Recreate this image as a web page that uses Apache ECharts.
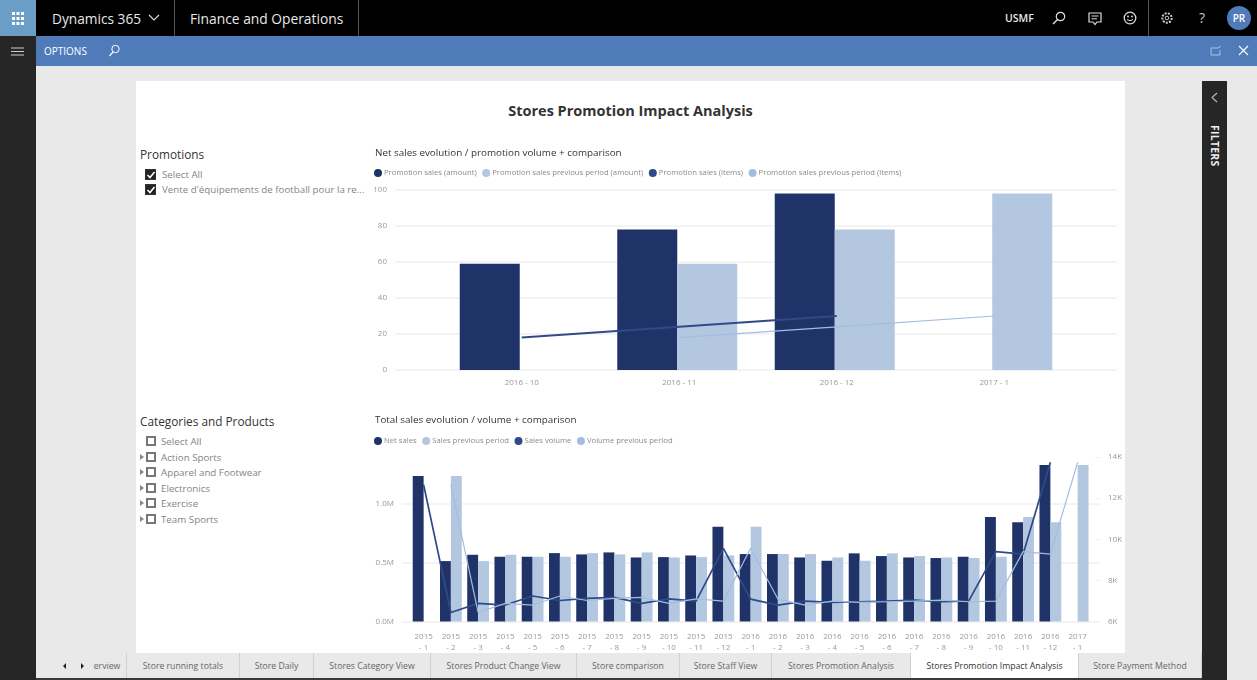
<!DOCTYPE html>
<html>
<head>
<meta charset="utf-8">
<title>Stores Promotion Impact Analysis</title>
<script src="https://cdn.jsdelivr.net/npm/echarts@6/dist/echarts.min.js"></script>
<style>
    html, body { margin: 0; padding: 0; width: 1257px; height: 680px; overflow: hidden; background: #e9e9e9; font-family: "Open Sans", "Noto Sans", sans-serif; }
    .abs { position: absolute; white-space: nowrap; }
    .box { position: absolute; left: 0; top: 0; }
    #topbar { left: 0; top: 0; width: 1257px; height: 36px; background: #000; color: #e8e8e8; }
    #tile { left: 0; top: 0; width: 36px; height: 36px; background: #6b9ec7; }
    #rail { left: 0; top: 36px; width: 36px; height: 644px; background: #262626; }
    #bluebar { left: 36px; top: 36px; width: 1221px; height: 30px; background: #4f7cb9; color: #fff; }
    #card { left: 136px; top: 81px; width: 989px; height: 572px; background: #fff; }
    #filters { left: 1202px; top: 81px; width: 25px; height: 599px; background: #262626; }
    #tabs { left: 60px; top: 653px; width: 1142px; height: 25px; background: #e9e9e9; z-index: 5; }
    #tabline { left: 36px; top: 678px; width: 1166px; height: 2px; background: #3a3a3a; z-index: 6; }
    .tab { position: absolute; top: 0; height: 25px; line-height: 27px; font-size: 8.7px; font-weight: 500; color: #666; text-align: center; border-right: 1px solid #d0d0d0; box-sizing: border-box; }
    .tab.on { background: #fff; color: #333; }
    .sep { position: absolute; top: 0; width: 1px; height: 36px; background: #555; }
    .slicer-title { font-size: 11.8px; color: #333; }
    .slicer-item { font-size: 9.75px; color: #858585; }
    .check { position: absolute; width: 9px; height: 9px; border: 1px solid #333; box-sizing: content-box; }
    .check.on { background: #222; }
    .check.off { border: 2px solid #777; width: 6px; height: 6px; }
    #chart1 { position: absolute; left: 370px; top: 140px; width: 755px; height: 260px; }
    #chart2 { position: absolute; left: 370px; top: 410px; width: 755px; height: 270px; }
</style>
</head>
<body>
<div id="topbar" class="abs">
    <div class="abs" style="left:52px;top:9px;font-size:13.7px;">Dynamics 365</div>
    <svg class="box" style="left:148px;top:14px;" width="12" height="8"><path d="M1 1 L6 6 L11 1" stroke="#ddd" fill="none" stroke-width="1.2"/></svg>
    <div class="sep" style="left:174px;"></div>
    <div class="abs" style="left:190px;top:9px;font-size:13.8px;">Finance and Operations</div>
    <div class="sep" style="left:358px;"></div>
    <div class="abs" style="left:1005px;top:11px;font-size:10.5px;font-weight:600;">USMF</div>
    <svg class="box" style="left:1052px;top:11px;" width="14" height="14"><circle cx="8.5" cy="5.5" r="4.2" stroke="#ddd" fill="none" stroke-width="1.2"/><path d="M5.5 8.5 L1 13" stroke="#ddd" stroke-width="1.4"/></svg>
    <svg class="box" style="left:1088px;top:12px;" width="14" height="14"><path d="M1 1 H13 V10 H9 L7 12.5 L5 10 H1 Z" stroke="#ddd" fill="none" stroke-width="1.2"/><path d="M3.5 4 H10.5 M3.5 6.8 H9" stroke="#ddd" stroke-width="1"/></svg>
    <svg class="box" style="left:1123px;top:11px;" width="14" height="14"><circle cx="7" cy="7" r="5.8" stroke="#ddd" fill="none" stroke-width="1.3"/><circle cx="5" cy="5.5" r="0.9" fill="#ddd"/><circle cx="9" cy="5.5" r="0.9" fill="#ddd"/><path d="M4 8.5 Q7 11 10 8.5" stroke="#ddd" fill="none"/></svg>
    <div class="sep" style="left:1148px;"></div>
    <svg class="box" style="left:1160px;top:11px;" width="14" height="14"><circle cx="7" cy="7" r="4.7" stroke="#ccc" fill="none" stroke-width="2" stroke-dasharray="2 1.2"/><circle cx="7" cy="7" r="1.8" stroke="#ccc" fill="none"/></svg>
    <div class="abs" style="left:1199px;top:8px;font-size:14px;color:#ccc;">?</div>
    <div class="abs" style="left:1227px;top:6px;width:24px;height:24px;border-radius:12px;background:#4f7cb9;color:#fff;font-size:10px;font-weight:600;line-height:24px;text-align:center;">PR</div>
</div>
<div id="tile" class="abs">
    <svg class="box" style="left:12px;top:12px;" width="13" height="13"><path d="M0 1.5 H13 M0 6.5 H13 M0 11.5 H13" stroke="#fff" stroke-width="3" stroke-dasharray="3 1.5"/></svg>
</div>
<div id="rail" class="abs">
    <svg class="box" style="left:11px;top:11px;" width="14" height="9"><path d="M0 1 H13 M0 4.5 H13 M0 8 H13" stroke="#ccc" stroke-width="1.2"/></svg>
</div>
<div id="bluebar" class="abs">
    <div class="abs" style="left:8px;top:8px;font-size:10px;">OPTIONS</div>
    <svg class="box" style="left:72px;top:8px;" width="13" height="13"><circle cx="7.5" cy="5" r="3.7" stroke="#fff" fill="none"/><path d="M5 8 L1.5 12" stroke="#fff" stroke-width="1.2"/></svg>
    <svg class="box" style="left:1174px;top:9px;" width="12" height="11"><path d="M8 3 H1 V10 H10 V5 M8 3 L11 1" stroke="#a9c3e3" fill="none"/></svg>
    <svg class="box" style="left:1202px;top:9px;" width="11" height="11"><path d="M1 1 L10 10 M10 1 L1 10" stroke="#fff" stroke-width="1.1"/></svg>
</div>

<div id="card" class="abs"></div>
<div class="abs" style="left:136px;top:101px;width:989px;text-align:center;font-size:14.5px;font-weight:700;color:#333;">Stores Promotion Impact Analysis</div>

<div class="abs slicer-title" style="left:140px;top:146px;">Promotions</div>
<div class="check on" style="left:145px;top:169px;"></div>
<svg class="box" style="left:146px;top:170px;" width="10" height="10"><path d="M1.5 5 L4 7.5 L8.5 2" stroke="#fff" fill="none" stroke-width="1.6"/></svg>
<div class="abs slicer-item" style="left:162px;top:167.5px;">Select All</div>
<div class="check on" style="left:145px;top:184px;"></div>
<svg class="box" style="left:146px;top:185px;" width="10" height="10"><path d="M1.5 5 L4 7.5 L8.5 2" stroke="#fff" fill="none" stroke-width="1.6"/></svg>
<div class="abs slicer-item" style="left:162px;top:182.5px;">Vente d'équipements de football pour la re...</div>

<div class="abs slicer-title" style="left:140px;top:413px;">Categories and Products</div>
<div id="categoryList"></div>

<div id="chart1"></div>
<div id="chart2"></div>

<div id="filters" class="abs">
    <svg class="box" style="left:9px;top:11px;" width="7" height="11"><path d="M6 1 L1 5.5 L6 10" stroke="#bbb" fill="none" stroke-width="1.1"/></svg>
    <div class="abs" style="left:13px;top:44px;font-size:10.4px;font-weight:700;color:#eee;transform-origin:0 0;transform:rotate(90deg) translate(0,-7px);letter-spacing:0.3px;">FILTERS</div>
</div>

<div id="tabs" class="abs"></div>
<div id="tabline" class="abs"></div>

<script>
// Top chart data
const promoMonths = ['2016 - 10', '2016 - 11', '2016 - 12', '2017 - 1'];
const promoAmount = [59, 78, 98, null];
const promoAmountPrev = [null, 59, 78, 98];
const promoItems = [18, 24, 30, null];
const promoItemsPrev = [null, 18, 24, 30];
const promoTicks = [0, 20, 40, 60, 80, 100];

// Bottom chart data
const salesMonths = ['2015 - 1', '2015 - 2', '2015 - 3', '2015 - 4', '2015 - 5', '2015 - 6', '2015 - 7', '2015 - 8', '2015 - 9', '2015 - 10', '2015 - 11', '2015 - 12',
    '2016 - 1', '2016 - 2', '2016 - 3', '2016 - 4', '2016 - 5', '2016 - 6', '2016 - 7', '2016 - 8', '2016 - 9', '2016 - 10', '2016 - 11', '2016 - 12', '2017 - 1'];
const netSales = [1239000, 514000, 568000, 551000, 551000, 582000, 571000, 588000, 545000, 548000, 562000, 807000,
    574000, 574000, 545000, 517000, 580000, 557000, 545000, 540000, 551000, 889000, 844000, 1332000, null];
const salesPrev = [null, 1239000, 514000, 568000, 551000, 551000, 582000, 571000, 588000, 545000, 548000, 562000,
    807000, 574000, 574000, 545000, 517000, 580000, 557000, 545000, 540000, 551000, 889000, 844000, 1332000];
const salesVolume = [12650, 6440, 6880, 6800, 7240, 7020, 7120, 7170, 6880, 7100, 6990, 9560,
    7090, 6800, 6990, 6930, 6960, 6990, 7040, 6960, 6990, 9400, 9280, 13740, null];
const volumePrev = [null, 12650, 6440, 6880, 6800, 7240, 7020, 7120, 7170, 6880, 7100, 6990,
    9560, 7090, 6800, 6990, 6930, 6960, 6990, 7040, 6960, 6990, 9400, 9280, 13740];

// Slicer and tab text
const categoryItems = ['Select All', 'Action Sports', 'Apparel and Footwear', 'Electronics', 'Exercise', 'Team Sports'];
const tabNames = ['erview', 'Store running totals', 'Store Daily', 'Stores Category View', 'Stores Product Change View', 'Store comparison', 'Store Staff View', 'Stores Promotion Analysis', 'Stores Promotion Impact Analysis', 'Store Payment Method'];
const tabEdges = [28, 67, 180, 254, 371, 517, 620, 712, 851, 1019, 1142];

const DARK = '#1f3369';
const LIGHT = '#b3c7e1';
const LINE_DARK = '#2f4b87';
const LINE_LIGHT = '#a3bde0';
const GRID_LINE = '#f0f0f0';
const LABEL_SIZE = 8;
const FONT = '"Open Sans", "Noto Sans", sans-serif';

const hiddenX = (gridIndex, data) => ({ type: 'category', gridIndex, data, show: false });

function barSeries(name, data, color, width, xAxisIndex, yAxisIndex) {
    return { name, type: 'bar', data, xAxisIndex, yAxisIndex, barWidth: width, barGap: 0, itemStyle: { color }, z: 2 };
}

function lineSeries(name, data, color, width, xAxisIndex, yAxisIndex) {
    return { name, type: 'line', data, xAxisIndex, yAxisIndex, showSymbol: false, symbol: 'none', lineStyle: { color, width }, itemStyle: { color }, z: 3 };
}

function baseOption(title, names, titleTop, legendTop) {
    return {
        animation: false,
        textStyle: { fontFamily: FONT },
        title: { text: title, left: 5, top: titleTop, padding: 0, textStyle: { fontSize: 9.85, fontWeight: 'normal', color: '#333', fontFamily: FONT } },
        legend: { data: names, left: 4, top: legendTop, padding: 0, icon: 'circle', itemWidth: 8, itemHeight: 8, itemGap: 5.5, textStyle: { fontSize: 7.7, color: '#8a8a8a', fontFamily: FONT, padding: [0, 0, 0, -3] } }
    };
}

// Net sales / promotion volume chart
function initPromoChart() {
    const myChart = echarts.init(document.getElementById('chart1'));
    const names = ['Promotion sales (amount)', 'Promotion sales previous period (amount)', 'Promotion sales (items)', 'Promotion sales previous period (items)'];
    const yRange = { type: 'value', min: promoTicks[0], max: promoTicks[promoTicks.length - 1], interval: 20 };
    const option = baseOption('Net sales evolution / promotion volume + comparison', names, 8, 29);
    // Wide grid only carries the gridlines and y labels, Power BI pads the categories inside it
    option.grid = [
        { left: 25, width: 722, top: 50, height: 180, outerBoundsMode: 'none' },
        { left: 71, width: 630, top: 50, height: 180, outerBoundsMode: 'none' },
        { left: 73, width: 630, top: 50, height: 180, outerBoundsMode: 'none' }
    ];
    option.xAxis = [
        { type: 'category', gridIndex: 0, show: false, data: promoMonths },
        hiddenX(1, promoMonths),
        { type: 'category', gridIndex: 2, data: promoMonths, axisLine: { show: false }, axisTick: { show: false }, axisLabel: { fontSize: LABEL_SIZE, color: '#999', margin: 9, interval: 0, fontFamily: FONT } }
    ];
    option.yAxis = [
        Object.assign({ gridIndex: 0, axisLine: { show: false }, axisTick: { show: false }, splitLine: { lineStyle: { color: GRID_LINE, width: 1.5 } }, axisLabel: { fontSize: LABEL_SIZE, color: '#999', margin: 8, fontFamily: FONT } }, yRange),
        Object.assign({ gridIndex: 1, show: false }, yRange),
        Object.assign({ gridIndex: 2, show: false }, yRange)
    ];
    option.series = [
        barSeries(names[0], promoAmount, DARK, 60, 1, 1),
        barSeries(names[1], promoAmountPrev, LIGHT, 60, 1, 1),
        lineSeries(names[2], promoItems, LINE_DARK, 2, 2, 2),
        lineSeries(names[3], promoItemsPrev, LINE_LIGHT, 1.2, 2, 2)
    ];
    myChart.setOption(option);
}

// Total sales / volume chart
function initSalesChart() {
    const myChart = echarts.init(document.getElementById('chart2'));
    const names = ['Net sales', 'Sales previous period', 'Sales volume', 'Volume previous period'];
    const leftRange = { type: 'value', min: 0, max: 1400000, interval: 500000 };
    const rightRange = { type: 'value', min: 6000, max: 14000, interval: 2000 };
    const option = baseOption('Total sales evolution / volume + comparison', names, 5, 27);
    option.grid = [
        { left: 32, width: 698, top: 47, height: 164.5, outerBoundsMode: 'none' },
        { left: 40, width: 681.25, top: 47, height: 164.5, outerBoundsMode: 'none' }
    ];
    option.xAxis = [
        { type: 'category', gridIndex: 0, show: false, data: salesMonths },
        {
            type: 'category', gridIndex: 1, data: salesMonths, axisLine: { show: false }, axisTick: { show: false },
            axisLabel: { fontSize: LABEL_SIZE, color: '#999', margin: 10, interval: 0, lineHeight: 11, fontFamily: FONT, formatter: v => v.replace(' - ', '\n- ') }
        }
    ];
    option.yAxis = [
        Object.assign({
            gridIndex: 0, position: 'left', axisLine: { show: false }, axisTick: { show: false },
            splitLine: { showMaxLine: false, lineStyle: { color: GRID_LINE, width: 1.5 } },
            axisLabel: { fontSize: LABEL_SIZE, color: '#999', margin: 8, showMaxLabel: false, fontFamily: FONT, formatter: v => (v / 1000000).toFixed(1) + 'M' }
        }, leftRange),
        Object.assign({
            gridIndex: 0, position: 'right', axisLine: { show: false }, axisTick: { show: true, inside: true, length: 5, lineStyle: { color: GRID_LINE } },
            splitLine: { show: false },
            axisLabel: { fontSize: LABEL_SIZE, color: '#999', margin: 8, fontFamily: FONT, formatter: v => (v / 1000) + 'K' }
        }, rightRange),
        Object.assign({ gridIndex: 1, show: false }, leftRange),
        Object.assign({ gridIndex: 1, show: false }, rightRange)
    ];
    option.series = [
        barSeries(names[0], netSales, DARK, 10.9, 1, 2),
        barSeries(names[1], salesPrev, LIGHT, 10.9, 1, 2),
        lineSeries(names[2], salesVolume, LINE_DARK, 1.7, 1, 3),
        lineSeries(names[3], volumePrev, LINE_LIGHT, 1.2, 1, 3)
    ];
    myChart.setOption(option);
}

// Slicer list on the left of the bottom chart
function buildCategoryList() {
    const list = document.getElementById('categoryList');
    const rowTops = [441, 457, 472, 488, 503, 519];
    categoryItems.forEach((item, i) => {
        const y = rowTops[i];
        let html = `<div class="check off" style="left:146px;top:${y - 5}px;"></div>
            <div class="abs slicer-item" style="left:161px;top:${y - 6.5}px;">${item}</div>`;
        if (i > 0) {
            html += `<svg class="box" style="left:140px;top:${y - 3}px;" width="4" height="6"><path d="M0 0 L4 3 L0 6 Z" fill="#888"/></svg>`;
        }
        list.insertAdjacentHTML('beforeend', html);
    });
}

// Report tabs along the bottom
function buildTabs() {
    const tabs = document.getElementById('tabs');
    tabNames.forEach((name, i) => {
        const on = name === 'Stores Promotion Impact Analysis';
        tabs.insertAdjacentHTML('beforeend',
            `<div class="tab${on ? ' on' : ''}" style="left:${tabEdges[i]}px;width:${tabEdges[i + 1] - tabEdges[i]}px;">${name}</div>`);
    });
    tabs.insertAdjacentHTML('beforeend', `<svg class="box" style="left:3px;top:10px;" width="22" height="6"><path d="M3 0 L0 3 L3 6 Z M18 0 L21 3 L18 6 Z" fill="#222"/></svg>`);
}

buildCategoryList();
buildTabs();
initPromoChart();
initSalesChart();
</script>
</body>
</html>
